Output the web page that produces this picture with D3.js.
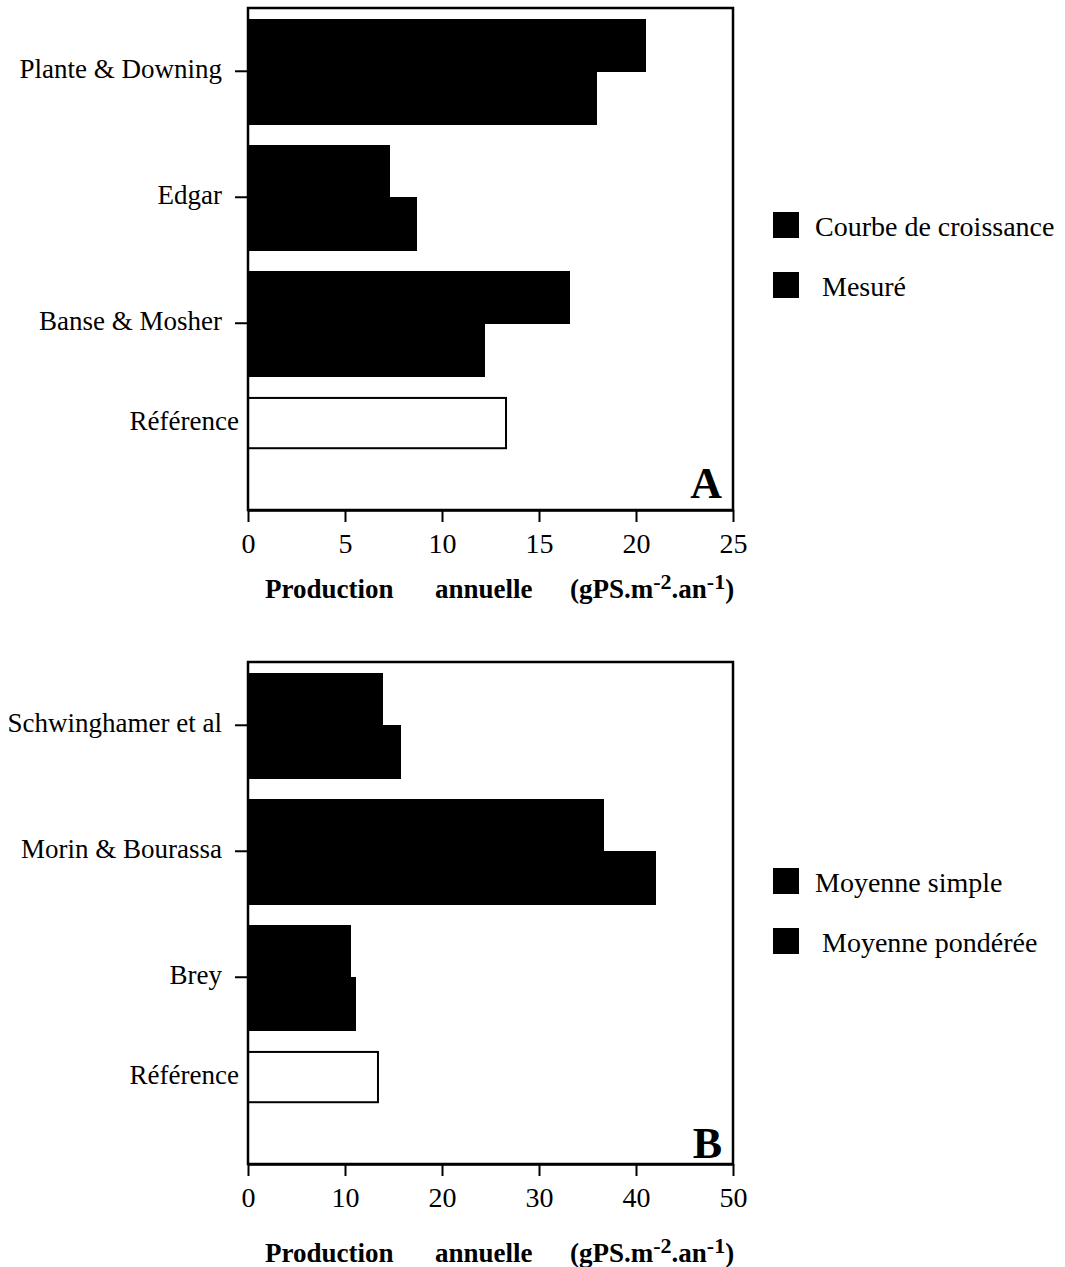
<!DOCTYPE html>
<html>
<head>
<meta charset="utf-8">
<script src="https://cdn.jsdelivr.net/npm/d3@7"></script>
<style>
  body { margin: 0; background: #fff; }
  svg text { font-family: "Liberation Serif", "Times New Roman", serif; fill: #000; }
</style>
</head>
<body>
<div id="chart"></div>
<script>
// panel A
var etudesA = ["Plante & Downing", "Edgar", "Banse & Mosher"];
var courbeA = [20.5, 7.3, 16.6];
var mesureA = [18.0, 8.7, 12.2];
var referenceA = 13.3;
var ticksA = [0, 5, 10, 15, 20, 25];
var legendeA = ["Courbe de croissance", "Mesuré"];

// panel B
var etudesB = ["Schwinghamer et al", "Morin & Bourassa", "Brey"];
var simpleB = [13.9, 36.7, 10.6];
var pondereeB = [15.8, 42.1, 11.1];
var referenceB = 13.4;
var ticksB = [0, 10, 20, 30, 40, 50];
var legendeB = ["Moyenne simple", "Moyenne pondérée"];

var refLabel = "Référence";

var width = 1065, height = 1267;
var left = 248, right = 733;
var frameH = 502;

var svg = d3.select("#chart").append("svg")
    .attr("width", width)
    .attr("height", height);

svg.append("rect").attr("width", width).attr("height", height).attr("fill", "#fff");

function drawPanel(o)
{
    var g = svg.append("g");

    var x = d3.scaleLinear()
        .domain([0, o.ticks[o.ticks.length - 1]])
        .range([left, right]);

    var groups = o.etudes.concat([refLabel]);
    var y = d3.scaleBand()
        .domain(groups)
        .range([o.top + 11, o.top + 11 + 482.5])
        .paddingInner(0.17);
    var sub = d3.scaleBand()
        .domain([0, 1])
        .range([0, y.bandwidth()]);

    var rows = [];
    o.etudes.forEach(function(e, i) {
        rows.push({etude: e, s: 0, v: o.serie1[i]});
        rows.push({etude: e, s: 1, v: o.serie2[i]});
    });

    g.selectAll("rect.bar")
        .data(rows)
        .enter()
        .append("rect")
        .attr("class", "bar")
        .attr("x", x(0))
        .attr("y", function(d) { return y(d.etude) + sub(d.s) })
        .attr("width", function(d) { return x(d.v) - x(0) })
        .attr("height", sub.bandwidth() + 1)
        .attr("shape-rendering", "crispEdges")
        .attr("fill", "#000");

    // reference bar (white)
    g.append("rect")
        .attr("x", x(0))
        .attr("y", y(refLabel) + sub(0) + 1)
        .attr("width", x(o.reference) - x(0))
        .attr("height", sub.bandwidth() - 2)
        .attr("fill", "#fff")
        .attr("stroke", "#000")
        .attr("stroke-width", 2);

    // frame
    var bottom = o.top + frameH;
    g.append("rect")
        .attr("x", left)
        .attr("y", o.top)
        .attr("width", right - left)
        .attr("height", frameH)
        .attr("fill", "none")
        .attr("stroke", "#000")
        .attr("stroke-width", 2.5);

    // x axis
    var xAxis = d3.axisBottom(x)
        .tickValues(o.ticks)
        .tickSize(12)
        .tickSizeOuter(0)
        .tickPadding(11);
    var ax = g.append("g")
        .attr("transform", "translate(0," + bottom + ")")
        .call(xAxis);
    ax.attr("font-size", 28);
    ax.select(".domain").attr("stroke-width", 2.5);
    ax.selectAll(".tick line").attr("stroke-width", 2);

    // category ticks and labels
    g.selectAll("line.cat")
        .data(o.etudes)
        .enter()
        .append("line")
        .attr("class", "cat")
        .attr("x1", left - 13)
        .attr("x2", left)
        .attr("y1", function(d) { return y(d) + y.bandwidth() / 2 })
        .attr("y2", function(d) { return y(d) + y.bandwidth() / 2 })
        .attr("stroke", "#000")
        .attr("stroke-width", 2);

    g.selectAll("text.cat")
        .data(o.etudes)
        .enter()
        .append("text")
        .attr("class", "cat")
        .attr("x", left - 26)
        .attr("y", function(d) { return y(d) + y.bandwidth() / 2 })
        .attr("dy", "0.25em")
        .attr("text-anchor", "end")
        .attr("font-size", 27)
        .text(function(d) { return d });

    g.append("text")
        .attr("x", left - 9)
        .attr("y", y(refLabel) + sub(0) + sub.bandwidth() / 2)
        .attr("dy", "0.25em")
        .attr("text-anchor", "end")
        .attr("font-size", 27)
        .text(refLabel);

    // panel letter
    g.append("text")
        .attr("x", right - 11)
        .attr("y", bottom - o.letterGap)
        .attr("text-anchor", "end")
        .attr("font-size", 44)
        .attr("font-weight", "bold")
        .text(o.letter);

    // axis title
    var ty = bottom + o.titleGap;
    var title = g.append("g").attr("font-weight", "bold").attr("font-size", 27);
    title.append("text").attr("x", 265).attr("y", ty).text("Production");
    title.append("text").attr("x", 435).attr("y", ty).text("annuelle");
    var t3 = title.append("text").attr("x", 570).attr("y", ty);
    t3.append("tspan").text("(gPS.m");
    t3.append("tspan").attr("font-size", 22).attr("dy", -9).text("-2");
    t3.append("tspan").attr("dy", 9).text(".an");
    t3.append("tspan").attr("font-size", 22).attr("dy", -9).text("-1");
    t3.append("tspan").attr("dy", 9).text(")");

    // legend
    var leg = g.selectAll("g.leg")
        .data(o.legende)
        .enter()
        .append("g")
        .attr("class", "leg")
        .attr("transform", function(d, i) { return "translate(773," + (o.legTop + i * 60) + ")" });
    leg.append("rect")
        .attr("width", 26)
        .attr("height", 26)
        .attr("fill", "#000");
    leg.append("text")
        .attr("x", function(d, i) { return 42 + i * 7 })
        .attr("y", 24)
        .attr("font-size", 28)
        .text(function(d) { return d });
}

drawPanel({
    top: 8, etudes: etudesA, serie1: courbeA, serie2: mesureA,
    reference: referenceA, ticks: ticksA, legende: legendeA,
    letter: "A", letterGap: 12, titleGap: 88, legTop: 212
});

drawPanel({
    top: 662, etudes: etudesB, serie1: simpleB, serie2: pondereeB,
    reference: referenceB, ticks: ticksB, legende: legendeB,
    letter: "B", letterGap: 6, titleGap: 98, legTop: 868
});
</script>
</body>
</html>
